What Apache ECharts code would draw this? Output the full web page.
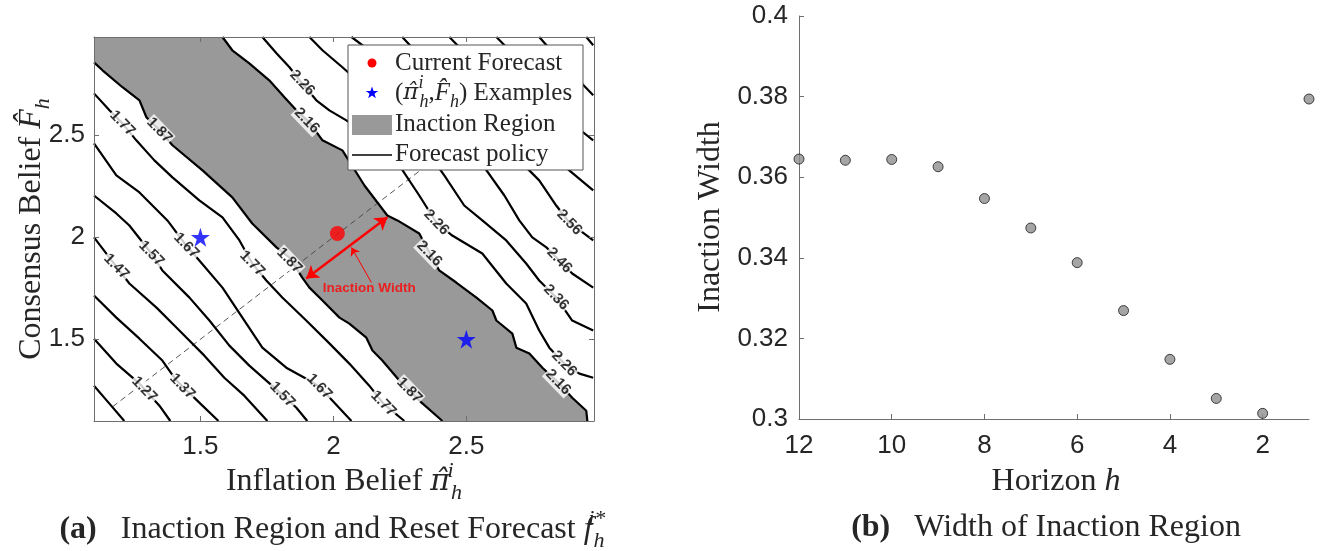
<!DOCTYPE html>
<html>
<head>
<meta charset="utf-8">
<script src="https://cdn.jsdelivr.net/npm/echarts@6/dist/echarts.min.js"></script>
<style>
html, body { margin: 0; padding: 0; background: #fff; }
#main { width: 1320px; height: 551px; }
</style>
</head>
<body>
<div id="main"></div>
<script>
// ---- panel (a): axes ----
const beliefMin = 1.1, beliefMax = 2.98;
const beliefTicks = [1.5, 2, 2.5];

// forecast policy contours, points are [inflation belief, consensus belief]
const c117 = [[1.10,1.273],[1.158,1.185],[1.214,1.10]];
const c127 = [[1.10,1.503],[1.184,1.381],[1.271,1.283],[1.346,1.175],[1.387,1.10]];
const c137 = [[1.10,1.714],[1.184,1.606],[1.271,1.503],[1.357,1.396],[1.410,1.298],[1.496,1.190],[1.568,1.10]];
const c147 = [[1.10,1.999],[1.184,1.856],[1.233,1.773],[1.335,1.655],[1.421,1.543],[1.515,1.420],[1.590,1.312],[1.665,1.224],[1.752,1.10]];
const c157 = [[1.10,2.204],[1.184,2.116],[1.233,2.057],[1.316,1.920],[1.357,1.837],[1.459,1.704],[1.534,1.592],[1.609,1.469],[1.684,1.371],[1.748,1.298],[1.808,1.229],[1.861,1.165],[1.902,1.10]];
const c167 = [[1.10,2.459],[1.184,2.303],[1.271,2.219],[1.376,2.082],[1.447,1.959],[1.496,1.886],[1.583,1.753],[1.658,1.606],[1.733,1.459],[1.823,1.361],[1.910,1.298],[1.947,1.268],[1.996,1.200],[2.068,1.10]];
const c177 = [[1.10,2.704],[1.158,2.621],[1.207,2.557],[1.259,2.474],[1.327,2.376],[1.395,2.293],[1.496,2.180],[1.583,2.097],[1.647,1.984],[1.695,1.871],[1.748,1.788],[1.808,1.705],[1.898,1.592],[1.985,1.480],[2.060,1.381],[2.135,1.273],[2.188,1.185],[2.229,1.141],[2.267,1.10]];
// lower and upper edges of the inaction region
const c187 = [[1.10,2.856],[1.132,2.817],[1.207,2.734],[1.271,2.670],[1.297,2.587],[1.346,2.523],[1.395,2.450],[1.508,2.327],[1.620,2.195],[1.695,2.067],[1.786,1.950],[1.835,1.900],[1.883,1.802],[1.910,1.753],[1.959,1.690],[2.023,1.606],[2.060,1.577],[2.124,1.508],[2.147,1.445],[2.184,1.396],[2.248,1.298],[2.323,1.200],[2.410,1.10]];
const c216 = [[1.583,2.98],[1.620,2.915],[1.684,2.851],[1.759,2.768],[1.816,2.685],[1.861,2.621],[1.910,2.562],[1.959,2.474],[2.034,2.425],[2.117,2.253],[2.203,2.106],[2.241,2.082],[2.323,2.018],[2.398,1.837],[2.462,1.778],[2.538,1.704],[2.598,1.641],[2.613,1.592],[2.673,1.528],[2.688,1.459],[2.737,1.430],[2.786,1.361],[2.850,1.283],[2.898,1.214],[2.951,1.150],[2.955,1.10]];
const c226 = [[1.733,2.98],[1.786,2.900],[1.835,2.832],[1.883,2.752],[1.936,2.670],[1.985,2.621],[2.049,2.572],[2.154,2.474],[2.248,2.351],[2.323,2.204],[2.387,2.072],[2.447,2.008],[2.560,1.920],[2.650,1.773],[2.725,1.675],[2.774,1.543],[2.812,1.459],[2.868,1.381],[2.925,1.332],[2.977,1.312]];
const c236 = [[1.910,2.98],[1.959,2.915],[2.034,2.832],[2.173,2.670],[2.323,2.474],[2.417,2.303],[2.492,2.155],[2.560,2.082],[2.650,1.984],[2.725,1.871],[2.774,1.788],[2.838,1.705],[2.898,1.592],[2.977,1.543]];
const c246 = [[2.068,2.98],[2.135,2.915],[2.248,2.793],[2.549,2.376],[2.643,2.204],[2.699,2.082],[2.748,1.999],[2.801,1.950],[2.850,1.886],[2.898,1.822],[2.977,1.753]];
const c256 = [[2.259,2.98],[2.323,2.891],[2.436,2.744],[2.624,2.474],[2.774,2.278],[2.838,2.155],[2.887,2.072],[2.977,1.984]];
const c266 = [[2.436,2.98],[2.511,2.881],[2.624,2.719],[2.774,2.474],[2.887,2.327],[2.977,2.229]];
const c276 = [[2.613,2.98],[2.699,2.866],[2.812,2.670],[2.906,2.548],[2.977,2.474]];
const c286 = [[2.774,2.98],[2.868,2.842],[2.977,2.695]];
const c296 = [[2.951,2.98],[2.977,2.94]];
const contours = [c117, c127, c137, c147, c157, c167, c177, c187, c216, c226, c236, c246, c256, c266, c276, c286, c296];

// inline contour labels [x, y, text]
const contourLabels = [
  [1.207,2.557,'1.77'],[1.695,1.871,'1.77'],[2.188,1.185,'1.77'],
  [1.346,2.523,'1.87'],[1.835,1.885,'1.87'],[2.286,1.250,'1.87'],
  [1.447,1.959,'1.67'],[1.947,1.268,'1.67'],
  [1.316,1.920,'1.57'],[1.808,1.229,'1.57'],
  [1.184,1.856,'1.47'],
  [1.432,1.270,'1.37'],
  [1.289,1.255,'1.27'],
  [1.883,2.755,'2.26'],[2.387,2.072,'2.26'],[2.868,1.381,'2.26'],
  [1.900,2.570,'2.16'],[2.361,1.920,'2.16'],[2.845,1.290,'2.16'],
  [2.887,2.072,'2.56'],[2.850,1.886,'2.46'],[2.838,1.705,'2.36']
];

const currentForecast = [[2.015, 2.018]];
const examples = [[1.5, 2.0], [2.5, 1.5]];
const diagonal = [[1.17, 1.17], [2.45, 2.45]];
const widthArrow = [[1.898, 1.798], [2.203, 2.097]];
const noteArrow = [[2.143, 1.778], [2.068, 1.950]];
const notePos = [[2.135, 1.748]];

// ---- panel (b) ----
const horizons = [12, 11, 10, 9, 8, 7, 6, 5, 4, 3, 2, 1];
const widths = [0.3645, 0.3642, 0.3644, 0.3626, 0.3547, 0.3474, 0.3388, 0.3269, 0.3148, 0.3051, 0.3014, 0.3794];
const horizonTicks = [2, 4, 6, 8, 10, 12];

// inaction region polygon from its two edges
const regionPts = [[beliefMin, beliefMax]].concat(c216).concat(c187.slice().reverse());

const serif = 'Liberation Serif';
const sans = 'Liberation Sans';
const ink = '#262626';
const axisGray = '#6e6e6e';
const starPath = 'path://M50,0L61.8,36.2L100,36.2L69.1,58.8L80.9,95.1L50,72.7L19.1,95.1L30.9,58.8L0,36.2L38.2,36.2Z';

function mathRich(size) {
  var small = Math.round(size * 0.7);
  return {
    t: { fontSize: size, fontFamily: serif, fill: ink, lineHeight: size + 12 },
    b: { fontSize: size, fontFamily: serif, fontWeight: 'bold', fill: ink, lineHeight: size + 12 },
    m: { fontSize: size, fontFamily: serif, fontStyle: 'italic', fill: ink, lineHeight: size + 12 },
    g: { fontSize: size - 2, fontFamily: 'DejaVu Serif', fontStyle: 'italic', fill: ink, lineHeight: size + 12 },
    p: { fontSize: small, fontFamily: serif, fontStyle: 'italic', fill: ink, verticalAlign: 'top', width: 1, align: 'left' },
    s: { fontSize: small, fontFamily: serif, fontStyle: 'italic', fill: ink, verticalAlign: 'bottom' }
  };
}
function label(x, y, text, size, rot) {
  return {
    type: 'text', x: x, y: y, rotation: rot || 0, z: 100,
    style: { text: text, rich: mathRich(size), align: 'center', verticalAlign: 'middle',
             textAlign: 'center', textVerticalAlign: 'middle' }
  };
}
function legendText(y, text) {
  return {
    type: 'text', x: 395, y: y, z: 101,
    style: { text: text, rich: mathRich(25), align: 'left', verticalAlign: 'middle',
             textAlign: 'left', textVerticalAlign: 'middle' }
  };
}
function starPoly(cx, cy, r) {
  var pts = [];
  for (var k = 0; k < 10; k++) {
    var rr = k % 2 === 0 ? r : r * 0.4;
    var a = -Math.PI / 2 + k * Math.PI / 5;
    pts.push([cx + rr * Math.cos(a), cy + rr * Math.sin(a)]);
  }
  return pts;
}

function beliefAxis(extra) {
  return Object.assign({
    type: 'value', gridIndex: 0, min: beliefMin, max: beliefMax, z: 10,
    axisLine: { show: true, onZero: false, lineStyle: { color: axisGray, width: 1 } },
    axisTick: { show: true, inside: true, length: 5, customValues: beliefTicks, lineStyle: { color: axisGray } },
    axisLabel: { show: false, customValues: beliefTicks },
    splitLine: { show: false }
  }, extra);
}

const chart = echarts.init(document.getElementById('main'));

const contourSeries = contours.map(function (pts) {
  return {
    type: 'line', name: 'Forecast policy', xAxisIndex: 0, yAxisIndex: 0,
    data: pts, showSymbol: false, symbol: 'none', z: 3, silent: true,
    lineStyle: { color: '#000', width: 2.2 }
  };
});

const option = {
  backgroundColor: '#fff',
  animation: false,
  grid: [
    { left: 94, top: 37, width: 500, height: 384 },
    { left: 799, top: 16, width: 510, height: 403 }
  ],
  xAxis: [
    beliefAxis({ position: 'bottom',
      axisLabel: { show: true, customValues: beliefTicks, fontSize: 26, fontFamily: sans, color: ink, margin: 13 } }),
    beliefAxis({ position: 'top' }),
    {
      type: 'value', gridIndex: 1, min: 1, max: 12, inverse: true,
      axisLine: { show: true, onZero: false, lineStyle: { color: axisGray } },
      axisTick: { show: true, inside: true, length: 5, customValues: horizonTicks, lineStyle: { color: axisGray } },
      axisLabel: { customValues: horizonTicks, fontSize: 26, fontFamily: sans, color: ink, margin: 14 },
      splitLine: { show: false }
    }
  ],
  yAxis: [
    beliefAxis({ position: 'left',
      axisLabel: { show: true, customValues: beliefTicks, fontSize: 26, fontFamily: sans, color: ink, margin: 9 } }),
    beliefAxis({ position: 'right' }),
    {
      type: 'value', gridIndex: 1, min: 0.3, max: 0.4, interval: 0.02,
      axisLine: { show: true, onZero: false, lineStyle: { color: axisGray } },
      axisTick: { show: true, inside: true, length: 5, lineStyle: { color: axisGray } },
      axisLabel: { fontSize: 26, fontFamily: sans, color: ink, margin: 11 },
      splitLine: { show: false }
    }
  ],
  series: [
    {
      type: 'custom', name: 'Inaction Region', xAxisIndex: 0, yAxisIndex: 0, z: 1,
      data: regionPts, encode: { x: 0, y: 1 }, silent: true,
      renderItem: function (params, api) {
        if (params.dataIndex !== 0) return null;
        return {
          type: 'polygon',
          shape: { points: regionPts.map(function (p) { return api.coord(p); }) },
          style: { fill: '#999999', stroke: null }
        };
      }
    },
    {
      type: 'line', name: 'diagonal', xAxisIndex: 0, yAxisIndex: 0, data: diagonal,
      showSymbol: false, symbol: 'none', z: 2, silent: true,
      lineStyle: { color: '#444', width: 0.9, type: [6, 4] }
    }
  ].concat(contourSeries).concat([
    {
      type: 'scatter', name: 'contour labels', xAxisIndex: 0, yAxisIndex: 0, z: 4,
      data: contourLabels, symbolSize: 1, silent: true,
      itemStyle: { color: 'transparent' },
      label: {
        show: true, position: 'inside', rotate: -46,
        formatter: function (p) { return p.value[2]; },
        fontSize: 15, fontWeight: 'bold', fontFamily: sans, color: '#000',
        backgroundColor: '#fff', padding: [0, 1]
      }
    },
    {
      type: 'lines', name: 'width arrow', coordinateSystem: 'cartesian2d', xAxisIndex: 0, yAxisIndex: 0, z: 5,
      data: [{ coords: widthArrow }], symbol: ['arrow', 'arrow'], symbolSize: 12, silent: true,
      lineStyle: { color: '#ff0000', width: 2.5, opacity: 1, curveness: 0 }
    },
    {
      type: 'lines', name: 'note arrow', coordinateSystem: 'cartesian2d', xAxisIndex: 0, yAxisIndex: 0, z: 5,
      data: [{ coords: noteArrow }], symbol: ['none', 'arrow'], symbolSize: 8, silent: true,
      lineStyle: { color: '#ff0000', width: 1, opacity: 1, curveness: 0 }
    },
    {
      type: 'scatter', name: 'note', xAxisIndex: 0, yAxisIndex: 0, z: 6,
      data: notePos, symbolSize: 1, silent: true, itemStyle: { color: 'transparent' },
      label: { show: true, position: 'inside', formatter: 'Inaction Width',
               fontSize: 13.5, fontWeight: 'bold', fontFamily: sans, color: '#ff0000' }
    },
    {
      type: 'scatter', name: 'Current Forecast', xAxisIndex: 0, yAxisIndex: 0, z: 6,
      data: currentForecast, symbol: 'circle', symbolSize: 15, silent: true,
      itemStyle: { color: '#ff0000' }
    },
    {
      type: 'scatter', name: 'Examples', xAxisIndex: 0, yAxisIndex: 0, z: 6,
      data: examples, symbol: starPath, symbolSize: 19, silent: true,
      itemStyle: { color: '#0000ff' }
    },
    {
      type: 'scatter', name: 'Inaction Width', xAxisIndex: 2, yAxisIndex: 2, clip: false,
      data: horizons.map(function (h, i) { return [h, widths[i]]; }),
      symbol: 'circle', symbolSize: 10,
      itemStyle: { color: '#8f8f8f', borderColor: '#1a1a1a', borderWidth: 1 }
    }
  ]),
  graphic: [
    // legend of panel (a)
    { type: 'rect', z: 100, shape: { x: 348, y: 45, width: 235, height: 125 },
      style: { fill: '#fff', stroke: '#555', lineWidth: 1 } },
    { type: 'circle', z: 101, shape: { cx: 372, cy: 63, r: 4.5 }, style: { fill: '#ff0000' } },
    { type: 'polygon', z: 101, shape: { points: starPoly(372, 93, 6.5) }, style: { fill: '#0000ff' } },
    { type: 'rect', z: 101, shape: { x: 352, y: 115, width: 40, height: 20 }, style: { fill: '#999999' } },
    { type: 'line', z: 101, shape: { x1: 352, y1: 155, x2: 392, y2: 155 }, style: { stroke: '#000', lineWidth: 1.5 } },
    legendText(63, '{t|Current Forecast}'),
    legendText(93, '{t|(}{g|\u03c0\u0302}{p|i}{s|h}{t|,}{m|F\u0302}{s|h}{t|) Examples}'),
    legendText(124, '{t|Inaction Region}'),
    legendText(154, '{t|Forecast policy}'),
    // axis titles and captions
    label(32, 229, '{t|Consensus Belief }{m|F\u0302}{s|h}', 32, Math.PI / 2),
    label(344, 482, '{t|Inflation Belief }{g|\u03c0\u0302}{p|i}{s|h}', 32),
    label(332, 530, '{b|(a)}{t|   Inaction Region and Reset Forecast }{m|f}{p|\u2004i*}{s|h}', 32),
    label(711, 217, '{t|Inaction Width}', 32, Math.PI / 2),
    label(1056, 482, '{t|Horizon }{m|h}', 32),
    label(1046, 528, '{b|(b)}{t|   Width of Inaction Region}', 32)
  ]
};

chart.setOption(option);
</script>
</body>
</html>
